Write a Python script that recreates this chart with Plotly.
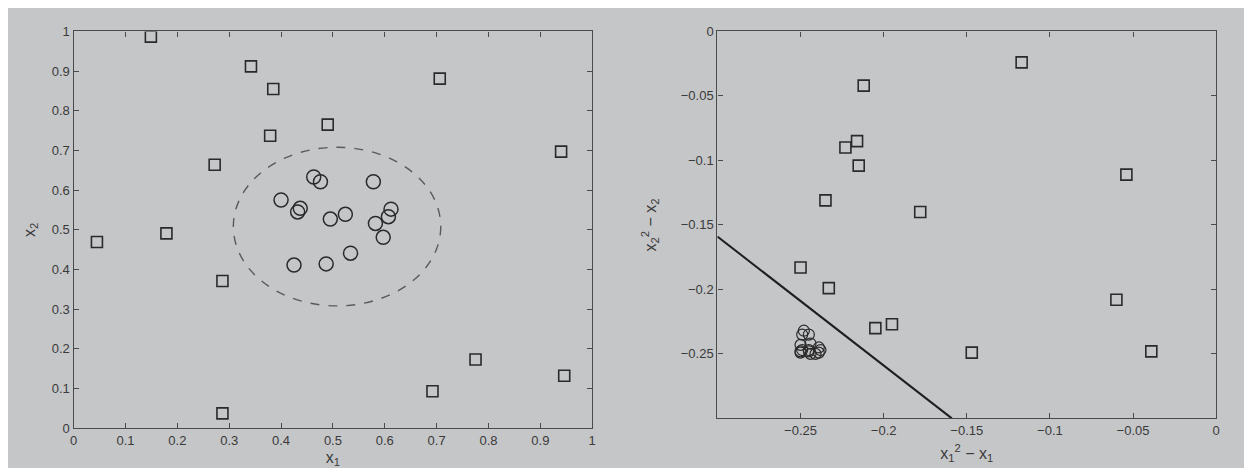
import plotly.graph_objects as go

# ---- Left panel: original input space (x1, x2) ----
sq_x1 = [0.149, 0.342, 0.385, 0.379, 0.490, 0.272, 0.706, 0.940, 0.045, 0.179, 0.287, 0.287, 0.692, 0.775, 0.946]
sq_x2 = [0.987, 0.912, 0.855, 0.737, 0.765, 0.664, 0.881, 0.697, 0.469, 0.491, 0.371, 0.037, 0.093, 0.173, 0.132]

ci_x1 = [0.463, 0.476, 0.578, 0.400, 0.437, 0.432, 0.524, 0.495, 0.612, 0.607, 0.582, 0.597, 0.425, 0.487, 0.534]
ci_x2 = [0.633, 0.621, 0.621, 0.575, 0.554, 0.545, 0.539, 0.527, 0.552, 0.533, 0.516, 0.481, 0.411, 0.414, 0.441]

circle_center = (0.508, 0.508)
circle_radius = 0.2

left_ticks = [0, 0.1, 0.2, 0.3, 0.4, 0.5, 0.6, 0.7, 0.8, 0.9, 1]
left_ticktext = ["0", "0.1", "0.2", "0.3", "0.4", "0.5", "0.6", "0.7", "0.8", "0.9", "1"]

# ---- Right panel: transformed space ----
rsq_x = [-0.117, -0.212, -0.216, -0.223, -0.215, -0.054, -0.235, -0.178, -0.250, -0.233, -0.060, -0.205, -0.195, -0.147, -0.039]
rsq_y = [-0.024, -0.042, -0.085, -0.090, -0.104, -0.111, -0.131, -0.140, -0.183, -0.199, -0.208, -0.230, -0.227, -0.249, -0.248]

rci_x = [-0.248, -0.249, -0.245, -0.239, -0.245, -0.245, -0.250, -0.250, -0.238, -0.239, -0.244, -0.241, -0.244, -0.250, -0.249]
rci_y = [-0.232, -0.235, -0.235, -0.245, -0.247, -0.248, -0.248, -0.249, -0.247, -0.249, -0.250, -0.250, -0.242, -0.243, -0.247]

boundary_x = [-0.3, -0.159]
boundary_y = [-0.159, -0.3]

right_ticks = [-0.25, -0.2, -0.15, -0.1, -0.05, 0]
right_ticktext = ["\u22120.25", "\u22120.2", "\u22120.15", "\u22120.1", "\u22120.05", "0"]

BG = "#c5c6c8"
INK = "#2a2a2a"
AX = "#4a4a4a"
FONT = "Liberation Sans"

# the page body adds an 8px margin; figure fills the rest of the 1252x476 window
W, H = 1236, 460
OFF = 8


def px_x(p):
    return (p - OFF) / W


def px_y(p):
    return (H - (p - OFF)) / H


fig = go.Figure()

fig.add_trace(go.Scatter(x=sq_x1, y=sq_x2, mode="markers", xaxis="x", yaxis="y",
                         marker=dict(symbol="square-open", size=11, color=INK, line=dict(width=1.6, color=INK)),
                         showlegend=False))
fig.add_trace(go.Scatter(x=ci_x1, y=ci_x2, mode="markers", xaxis="x", yaxis="y",
                         marker=dict(symbol="circle-open", size=14, color=INK, line=dict(width=1.5, color=INK)),
                         showlegend=False))

fig.add_trace(go.Scatter(x=boundary_x, y=boundary_y, mode="lines", xaxis="x2", yaxis="y2",
                         line=dict(color="#1e1e1e", width=2), showlegend=False))
fig.add_trace(go.Scatter(x=rsq_x, y=rsq_y, mode="markers", xaxis="x2", yaxis="y2",
                         marker=dict(symbol="square-open", size=11, color=INK, line=dict(width=1.6, color=INK)),
                         showlegend=False))
fig.add_trace(go.Scatter(x=rci_x, y=rci_y, mode="markers", xaxis="x2", yaxis="y2",
                         marker=dict(symbol="circle-open", size=11, color=INK, line=dict(width=1.2, color=INK)),
                         showlegend=False))

cx, cy = circle_center
fig.add_shape(type="circle", xref="x", yref="y",
              x0=cx - circle_radius, x1=cx + circle_radius,
              y0=cy - circle_radius, y1=cy + circle_radius,
              line=dict(color="#5a5a5a", width=1.4, dash="dash"))

axis_common = dict(showline=True, linecolor=AX, linewidth=1.3, mirror="ticks",
                   ticks="inside", ticklen=5, tickcolor=AX, showgrid=False, zeroline=False,
                   tickfont=dict(family=FONT, size=13, color="#3a3a3a"))
title_font = dict(family=FONT, size=16, color="#3a3a3a")

fig.update_layout(
    width=W, height=H,
    margin=dict(l=0, r=0, t=0, b=0),
    paper_bgcolor=BG, plot_bgcolor=BG,
    font=dict(family=FONT, color="#3a3a3a"),
    xaxis=dict(domain=[px_x(70), px_x(592)], range=[0, 1], tickvals=left_ticks, ticktext=left_ticktext,
               title=dict(text="x<sub>1</sub>", font=title_font, standoff=6),
               anchor="y", **axis_common),
    yaxis=dict(domain=[px_y(435), px_y(25)], range=[0, 1], tickvals=left_ticks, ticktext=left_ticktext,
               title=dict(text="x<sub>2</sub>", font=title_font, standoff=12),
               anchor="x", **axis_common),
    xaxis2=dict(domain=[px_x(718), px_x(1220)], range=[-0.3, 0], tickvals=right_ticks, ticktext=right_ticktext,
                title=dict(text="x<sub>1</sub><sup>2</sup> \u2212 x<sub>1</sub>", font=title_font, standoff=10),
                anchor="y2", **axis_common),
    yaxis2=dict(domain=[px_y(425), px_y(25)], range=[-0.3, 0], tickvals=right_ticks, ticktext=right_ticktext,
                title=dict(text="x<sub>2</sub><sup>2</sup> \u2212 x<sub>2</sub>", font=title_font, standoff=20),
                anchor="x2", **axis_common),
)

fig.write_html("out.html")
